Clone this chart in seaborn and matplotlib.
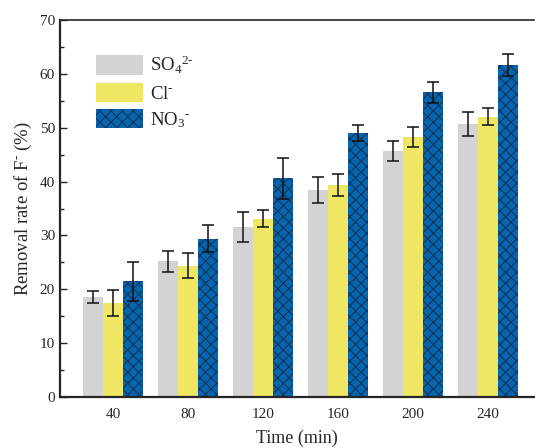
import numpy as np
import pandas as pd
import matplotlib
matplotlib.use('Agg')
import matplotlib.pyplot as plt
import seaborn as sns

# 데이터
times = ['40', '80', '120', '160', '200', '240']
ions = ['SO4', 'Cl', 'NO3']
so4 = [18.5, 25.2, 31.5, 38.5, 45.7, 50.7]
so4_err = [1.1, 1.9, 2.8, 2.4, 1.9, 2.2]
cl = [17.5, 24.4, 33.1, 39.4, 48.3, 52.1]
cl_err = [2.4, 2.3, 1.6, 2.0, 1.9, 1.5]
no3 = [21.5, 29.4, 40.6, 49.0, 56.6, 61.7]
no3_err = [3.6, 2.5, 3.8, 1.5, 1.9, 2.1]
legend_labels = [r'SO$_4$$^{2\text{-}}$', r'Cl$^{\text{-}}$', r'NO$_3$$^{\text{-}}$']

df = pd.DataFrame({
    'time': times * 3,
    'ion': [ions[0]] * 6 + [ions[1]] * 6 + [ions[2]] * 6,
    'rate': so4 + cl + no3,
})
errs = [so4_err, cl_err, no3_err]

sns.set_style('ticks')
plt.rcParams['font.family'] = ['Liberation Serif', 'DejaVu Serif']
plt.rcParams['mathtext.fontset'] = 'custom'
plt.rcParams['mathtext.rm'] = 'Liberation Serif'
plt.rcParams['mathtext.it'] = 'Liberation Serif:italic'
plt.rcParams['hatch.linewidth'] = 0.8

colors = ['#d3d3d3', '#efe664', '#0565b0']

fig = plt.figure(figsize=(5.35, 4.48), dpi=100)
ax = fig.add_axes([0.112, 0.114, 0.886, 0.841])

sns.barplot(data=df, x='time', y='rate', hue='ion', order=times, hue_order=ions,
            palette=colors, width=0.8, gap=0, errorbar=None, saturation=1,
            legend=False, ax=ax)

bar_conts = list(ax.containers)
for i, cont in enumerate(bar_conts):
    xs = [p.get_x() + p.get_width() / 2 for p in cont.patches]
    ys = [p.get_height() for p in cont.patches]
    for p in cont.patches:
        p.set_linewidth(0)
        if i == 2:
            p.set_hatch('xxx')
            p.set_edgecolor('#123559')
    ax.errorbar(xs, ys, yerr=errs[i], fmt='none', ecolor='#111111',
                elinewidth=1.1, capsize=4, capthick=1.1, zorder=5)

ax.set_xlim(-0.707, 5.61)
ax.set_ylim(0, 70)
ax.set_yticks(np.arange(0, 71, 10))
ax.set_yticks(np.arange(0, 71, 5), minor=True)
ax.tick_params(axis='y', which='major', direction='in', length=5, width=1, labelsize=11)
ax.tick_params(axis='y', which='minor', direction='in', length=3, width=1)
ax.tick_params(axis='x', length=0, labelsize=11, pad=8)
for s in ['left', 'bottom']:
    ax.spines[s].set_linewidth(1.6)
ax.spines['top'].set_linewidth(1.2)
ax.spines['right'].set_visible(False)

ax.set_xlabel('Time (min)', fontsize=13, labelpad=6)
ax.set_ylabel(r'Removal rate of F$^{\text{-}}$ (%)', fontsize=13.5, labelpad=4)

ax.legend(bar_conts, legend_labels, loc='upper left', bbox_to_anchor=(0.06, 0.93),
          frameon=False, fontsize=13.5, handlelength=2.5, handleheight=1.2,
          labelspacing=0.35, handletextpad=0.4, borderaxespad=0)

plt.savefig('out.png', dpi=100)
